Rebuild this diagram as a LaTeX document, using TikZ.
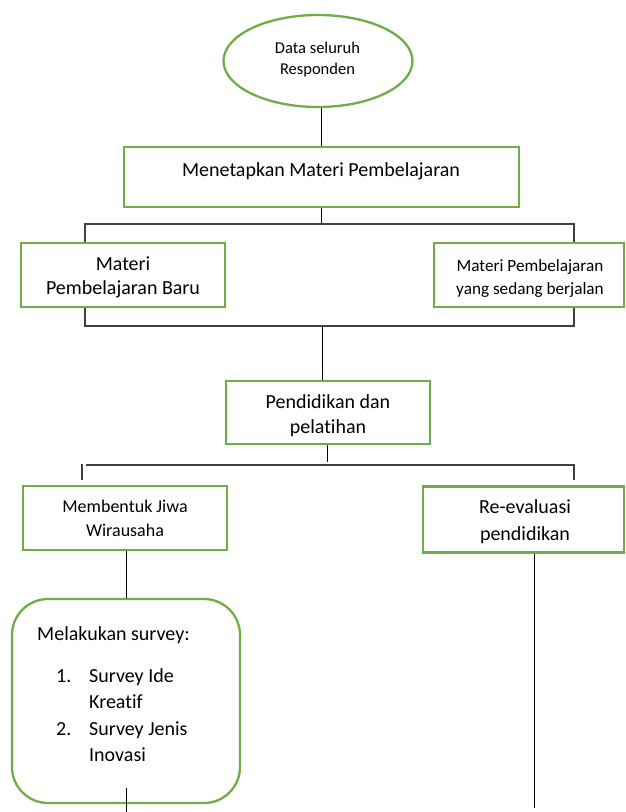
\documentclass[tikz,border=0pt]{standalone}
\usepackage{fontspec}
\setmainfont{Carlito}[Ligatures={NoCommon,NoContextual}]
\usetikzlibrary{shapes.geometric}
\definecolor{grn}{HTML}{70AD47}
\definecolor{brk}{HTML}{404040}
\begin{document}
\begin{tikzpicture}[x=1pt,y=-1pt,
  gbox/.style={draw=grn,line width=2.3pt,inner sep=0pt},
  conn/.style={draw=black,line width=1pt},
  brack/.style={draw=brk,line width=1.2pt},
  txt/.style={anchor=base,inner sep=0pt},
  ltxt/.style={anchor=base west,inner sep=0pt},
  fA/.style={font=\fontsize{16.5}{20}\selectfont},
  fB/.style={font=\fontsize{20}{24}\selectfont},
  fC/.style={font=\fontsize{17.2}{21}\selectfont},
  fD/.style={font=\fontsize{18}{22}\selectfont}]
\useasboundingbox (0,0) rectangle (626,812);
% boxes
\node[gbox,ellipse,minimum width=189pt,minimum height=92pt] (ell) at (318,61) {};
\node[gbox,minimum width=395pt,minimum height=60pt] (men) at (321.5,177) {};
\node[gbox,minimum width=204pt,minimum height=64pt] (mb) at (123,275) {};
\node[gbox,minimum width=190pt,minimum height=64pt] (mj) at (529,275) {};
\node[gbox,minimum width=204pt,minimum height=63pt] (pd) at (328,412.5) {};
\node[gbox,minimum width=204pt,minimum height=64pt] (mw) at (125,518) {};
\node[gbox,minimum width=201pt,minimum height=66pt] (re) at (523.5,519.5) {};
\node[gbox,rounded corners=36pt,minimum width=228pt,minimum height=204pt] (sv) at (126,701) {};
% texts
\node[txt,fA] (t1a) at (317.5,53) {Data seluruh};
\node[txt,fA] (t1b) at (317.5,74) {Responden};
\node[txt,fB] (t2) at (321,176) {Menetapkan Materi Pembelajaran};
\node[txt,fB] (t3a) at (123,270) {Materi};
\node[txt,fB] (t3b) at (123,294) {Pembelajaran Baru};
\node[txt,fC] (t4a) at (530,271) {Materi Pembelajaran};
\node[txt,fC] (t4b) at (530,294) {yang sedang berjalan};
\node[txt,fB] (t5a) at (328,408) {Pendidikan dan};
\node[txt,fB] (t5b) at (328,433) {pelatihan};
\node[txt,fD] (t6a) at (125,512) {Membentuk Jiwa};
\node[txt,fD] (t6b) at (125,536) {Wirausaha};
\node[txt,fB] (t7a) at (525,513) {Re-evaluasi};
\node[txt,fB] (t7b) at (525,540) {pendidikan};
\node[ltxt,fB] (t8) at (37,640) {Melakukan survey:};
\node[ltxt,fB] (t9n) at (56,682) {1.};
\node[ltxt,fB] (t9a) at (89,682) {Survey Ide};
\node[ltxt,fB] (t9b) at (89,708) {Kreatif};
\node[ltxt,fB] (t10n) at (56,735) {2.};
\node[ltxt,fB] (t10a) at (89,735) {Survey Jenis};
\node[ltxt,fB] (t10b) at (89,761) {Inovasi};
% coordinates
\coordinate (x1) at (321,0);
\coordinate (x2) at (322,0);
\coordinate (x3) at (327,0);
\coordinate (x4) at (126,0);
\coordinate (x5) at (534,0);
\coordinate (b1l) at (85,224);
\coordinate (b1r) at (574,224);
\coordinate (b2l) at (85,326);
\coordinate (b2r) at (574,326);
\coordinate (j3) at (327,462);
\coordinate (b3l) at (86,465);
\coordinate (b3r) at (574,465);
\coordinate (b3lt) at (82,464);
\coordinate (b3lb) at (82,480);
\coordinate (b3rb) at (574,480);
\coordinate (e1) at (126,788);
\coordinate (e2) at (126,812);
\coordinate (e5) at (534,808);
% connectors
\draw[conn] (ell.south -| x1) -- (men.north -| x1);
\draw[conn] (men.south -| x1) -- (x1 |- b1l);
\draw[brack] (mb.north -| b1l) -- (b1l) -- (b1r) -- (mj.north -| b1r);
\draw[brack] (mb.south -| b2l) -- (b2l) -- (b2r) -- (mj.south -| b2r);
\draw[conn] (x2 |- b2l) -- (pd.north -| x2);
\draw[conn] (pd.south -| x3) -- (j3);
\draw[brack] (b3l) -- (b3r) -- (b3rb);
\draw[brack] (b3lt) -- (b3lb);
\draw[conn] (mw.south -| x4) -- (sv.north -| x4);
\draw[conn] (e1) -- (e2);
\draw[conn] (re.south -| x5) -- (e5);
\end{tikzpicture}
\end{document}
